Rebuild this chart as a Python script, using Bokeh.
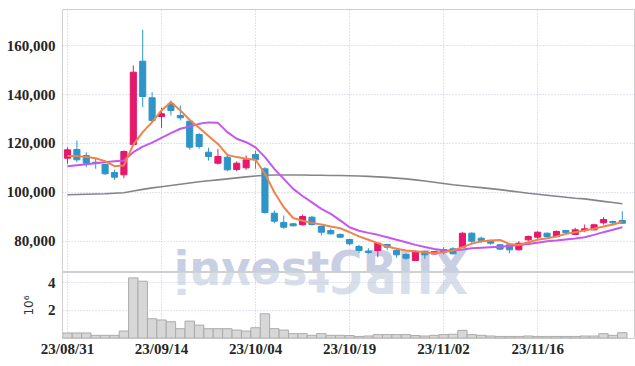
import math
from bokeh.plotting import figure
from bokeh.layouts import column
from bokeh.models import ColumnDataSource, FixedTicker, NumeralTickFormatter, Range1d, Label
from bokeh.embed import file_html
from bokeh.resources import INLINE

# ---------------- data ----------------
dates = [
    "2023-08-31", "2023-09-01", "2023-09-04", "2023-09-05", "2023-09-06", "2023-09-07", "2023-09-08",
    "2023-09-11", "2023-09-12", "2023-09-13", "2023-09-14", "2023-09-15", "2023-09-18", "2023-09-19",
    "2023-09-20", "2023-09-21", "2023-09-22", "2023-09-25", "2023-09-26", "2023-09-27", "2023-10-04",
    "2023-10-05", "2023-10-06", "2023-10-10", "2023-10-11", "2023-10-12", "2023-10-13", "2023-10-16",
    "2023-10-17", "2023-10-18", "2023-10-19", "2023-10-20", "2023-10-23", "2023-10-24", "2023-10-25",
    "2023-10-26", "2023-10-27", "2023-10-30", "2023-10-31", "2023-11-01", "2023-11-02", "2023-11-03",
    "2023-11-06", "2023-11-07", "2023-11-08", "2023-11-09", "2023-11-10", "2023-11-13", "2023-11-14",
    "2023-11-15", "2023-11-16", "2023-11-17", "2023-11-20", "2023-11-21", "2023-11-22", "2023-11-23",
    "2023-11-24", "2023-11-27", "2023-11-28", "2023-11-29",
]
opens = [113950, 117500, 115050, 112310, 111370, 108100, 107160, 119550, 153620, 138650,
         131000, 136200, 131410, 129080, 123640, 116400, 111900, 114360, 109330, 110020,
         115460, 109610, 91450, 87650, 87120, 86710, 89820, 86010, 84380, 82740,
         80700, 77830, 75910, 76200, 78650, 76200, 74560, 72110, 75790, 74760,
         76600, 76890, 77550, 83270, 81230, 80290, 78530, 78530, 76480, 80570,
         81640, 83270, 81920, 84380, 82740, 84380, 84660, 87530, 88060, 88470]
highs = [118450, 121190, 116400, 113700, 111650, 109200, 117100, 151860, 166460, 140940,
         134560, 137550, 135500, 129370, 124170, 118200, 117790, 115460, 112720, 115050,
         117100, 110270, 92560, 90510, 87400, 90920, 90390, 86420, 85190, 83270,
         80980, 78530, 77140, 79180, 78940, 77350, 75090, 76200, 76200, 75900,
         77550, 77550, 83680, 83680, 81920, 80700, 78800, 79180, 80000, 82330,
         84090, 83560, 84380, 84660, 85480, 86830, 87120, 89820, 88470, 92270]
lows = [111660, 112310, 110270, 109610, 107160, 105110, 105770, 119000, 134810, 128670,
        126380, 131410, 129370, 117380, 117790, 113010, 111370, 108630, 108630, 109200,
        109610, 91200, 87360, 85070, 86000, 86420, 86420, 82330, 82740, 81230,
        78240, 75260, 74850, 73460, 76480, 73210, 72390, 72000, 72800, 74560,
        74560, 74560, 77300, 78650, 79180, 78530, 76500, 75090, 76200, 80000,
        80570, 80980, 81640, 83270, 82450, 83680, 84380, 86830, 86420, 87120]
closes = [117380, 113290, 111900, 111900, 107570, 106180, 116690, 149120, 139180, 129370,
          132110, 133460, 130470, 118450, 118730, 114640, 114640, 109200, 111900, 113290,
          113290, 91740, 88180, 85730, 86300, 90100, 86830, 83680, 83030, 81640,
          78940, 76200, 75380, 79180, 77550, 74440, 73050, 75500, 74440, 75710,
          75500, 74850, 83270, 80000, 80290, 79180, 76730, 76480, 79180, 81920,
          83680, 81920, 83970, 83440, 84660, 85070, 86710, 88880, 87530, 87360]
ma_short = [114800, 114800, 114400, 113900, 112700, 110700, 111000, 119500, 124600, 128700,
            133500, 136900, 133500, 129600, 126400, 123000, 119800, 115300, 114400, 113700,
            113300, 107600, 100000, 93900, 89500, 88400, 87500, 86800, 86000, 85300,
            83700, 82000, 80600, 79200, 77800, 76900, 76200, 75900, 75500, 75100,
            75500, 76200, 77500, 79000, 80000, 80300, 80500, 78900, 78500, 79600,
            80600, 81200, 81900, 83000, 83700, 84400, 85100, 86000, 86800, 87800]
ma_mid = [110700, 111100, 111500, 111900, 112300, 112700, 113000, 116400, 118700, 120300,
          122300, 124200, 126000, 126900, 128000, 128600, 128400, 124600, 121900, 120500,
          118400, 114400, 109600, 105500, 101400, 98500, 95900, 93200, 91200, 88500,
          85700, 84300, 83400, 82600, 81600, 80600, 79600, 78500, 77600, 76800,
          76300, 76200, 76600, 77100, 77300, 77500, 77700, 78000, 78400, 78900,
          79400, 80000, 80300, 80700, 81100, 81600, 82600, 83700, 84700, 85700]
ma_long = [99000, 99100, 99200, 99300, 99400, 99600, 99800, 100500, 101200, 101800,
           102300, 102800, 103300, 103800, 104300, 104700, 105100, 105500, 105900, 106300,
           106700, 107000, 107100, 107100, 107100, 107100, 107000, 107000, 106900, 106900,
           106800, 106700, 106500, 106300, 106100, 105800, 105500, 105100, 104600, 104100,
           103600, 103100, 102700, 102300, 101900, 101500, 101100, 100600, 100100, 99600,
           99200, 98800, 98400, 98000, 97600, 97300, 96800, 96300, 95800, 95300]
volumes = [370000, 370000, 370000, 200000, 200000, 200000, 510000, 4360000, 4120000, 1400000,
           1310000, 1180000, 680000, 1230000, 940000, 680000, 680000, 680000, 580000, 510000,
           750000, 1760000, 680000, 580000, 320000, 320000, 200000, 320000, 200000, 200000,
           180000, 120000, 150000, 250000, 250000, 250000, 250000, 180000, 150000, 200000,
           250000, 280000, 560000, 250000, 200000, 150000, 120000, 120000, 120000, 150000,
           120000, 120000, 120000, 120000, 120000, 150000, 150000, 320000, 200000, 390000]
price_ticks = [80000, 100000, 120000, 140000, 160000]
volume_ticks = [2000000, 4000000]
volume_tick_labels = ["2", "4"]
volume_unit_label = "10\u2076"
date_tick_step = 10
watermark = "investCRUX"

# ---------------- derived ----------------
UP, DOWN = "#e5186b", "#2e95c8"
xs = list(range(len(dates)))
colors = [UP if c >= o else DOWN for o, c in zip(opens, closes)]
src = ColumnDataSource(dict(
    x=xs, open=opens, high=highs, low=lows, close=closes,
    top=[max(o, c) for o, c in zip(opens, closes)],
    bottom=[min(o, c) for o, c in zip(opens, closes)],
    color=colors, vol=volumes, ma_s=ma_short, ma_m=ma_mid, ma_l=ma_long,
))
date_ticks = xs[::date_tick_step]
date_labels = {i: dates[i][2:].replace("-", "/") for i in date_ticks}

FONT = "Liberation Sans Narrow"
GRID = "#c2c6dc"
OUTLINE = "#cfcfcf"
W = 635
LEFT, RIGHT = 62, 1
x_range = Range1d(-0.53, 60.3)


def style_axis(ax, standoff):
    ax.axis_line_color = None
    ax.major_tick_line_color = None
    ax.minor_tick_line_color = None
    ax.major_tick_out = 0
    ax.major_tick_in = 0
    ax.minor_tick_out = 0
    ax.minor_tick_in = 0
    ax.major_label_text_font = FONT
    ax.major_label_text_font_size = "15px"
    ax.major_label_text_font_style = "bold"
    ax.major_label_text_color = "#262626"
    ax.major_label_standoff = standoff


def style_grid(fig):
    for g in (fig.xgrid, fig.ygrid):
        g.grid_line_color = GRID
        g.grid_line_dash = "1 2"
        g.grid_line_width = 1


# ---------------- main price panel ----------------
p = figure(width=W, height=272, x_range=x_range, y_range=Range1d(67200, 174770),
           output_backend="svg", toolbar_location=None,
           min_border_left=LEFT, min_border_right=RIGHT, min_border_top=9, min_border_bottom=0)
p.outline_line_color = OUTLINE
p.xaxis.visible = False
p.xgrid.ticker = FixedTicker(ticks=date_ticks)
p.yaxis.ticker = FixedTicker(ticks=price_ticks)
p.yaxis.formatter = NumeralTickFormatter(format="0,0")
for ax in p.yaxis:
    style_axis(ax, 7)
style_grid(p)

wm_size = 45
wm_font = "DejaVu Sans"
wm_x = 11.3
p.add_layout(Label(x=wm_x, y=69240, text=watermark, text_font=wm_font,
                   text_font_style="bold", text_font_size=f"{wm_size}px",
                   text_color="#c9cfe3", text_baseline="alphabetic", level="image"))

p.segment(x0="x", y0="low", x1="x", y1="high", color="color", line_width=1, source=src)
p.vbar(x="x", width=0.65, top="top", bottom="bottom", fill_color="color",
       line_color="color", line_width=1, source=src)
p.line("x", "ma_l", source=src, line_color="#858585", line_width=1.6)
p.line("x", "ma_m", source=src, line_color="#c756ee", line_width=2)
p.line("x", "ma_s", source=src, line_color="#ef8348", line_width=2)

# ---------------- volume panel ----------------
v = figure(width=W, height=94, x_range=x_range, y_range=Range1d(-30000, 4750000),
           output_backend="svg", toolbar_location=None,
           min_border_left=LEFT, min_border_right=RIGHT, min_border_top=0, min_border_bottom=28)
v.outline_line_color = OUTLINE
v.xaxis.ticker = FixedTicker(ticks=date_ticks)
v.xaxis.major_label_overrides = date_labels
v.xgrid.ticker = FixedTicker(ticks=date_ticks)
v.yaxis.ticker = FixedTicker(ticks=volume_ticks)
v.yaxis.major_label_overrides = dict(zip(volume_ticks, volume_tick_labels))
v.yaxis.axis_label = volume_unit_label
for ax in v.xaxis:
    style_axis(ax, 2)
for ax in v.yaxis:
    style_axis(ax, 7)
v.yaxis.axis_label_text_font = "DejaVu Sans"
v.yaxis.axis_label_text_font_size = "12px"
v.yaxis.axis_label_text_font_style = "normal"
v.yaxis.axis_label_text_color = "#333333"
v.yaxis.axis_label_standoff = 9
style_grid(v)

# reflected watermark, letter by letter (each glyph turned over its own baseline)
adv = {"i": 0.343, "n": 0.712, "v": 0.652, "e": 0.678, "s": 0.595, "t": 0.478,
       "C": 0.734, "R": 0.770, "U": 0.812, "X": 0.774}
ppu = (W - LEFT - RIGHT) / (x_range.end - x_range.start)
cur = wm_x
for ch in watermark:
    w = adv.get(ch, 0.6) * wm_size / ppu
    v.add_layout(Label(x=cur + w / 2, y=4480000, text=ch, text_font=wm_font,
                       text_font_style="bold", text_font_size=f"{wm_size}px",
                       text_color="#d3d8e8", text_alpha=0.85, text_align="center",
                       text_baseline="alphabetic", angle=math.pi, level="image"))
    cur += w

v.vbar(x="x", width=1.0, top="vol", bottom=0, fill_color="#d7d7d7",
       line_color="#ababab", line_width=1, source=src)

layout = column(p, v, spacing=0)
open("out.html", "w").write(file_html(layout, INLINE))
